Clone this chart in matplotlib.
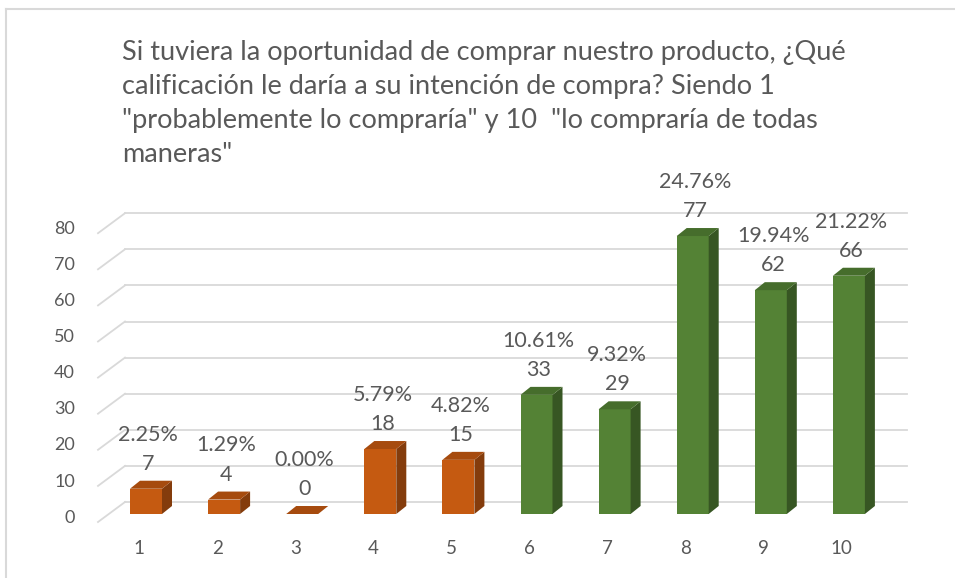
import matplotlib
matplotlib.use("Agg")
import matplotlib.pyplot as plt
from matplotlib.patches import Polygon, Rectangle

# datos de la encuesta
categorias = [1, 2, 3, 4, 5, 6, 7, 8, 9, 10]
cantidades = [7, 4, 0, 18, 15, 33, 29, 77, 62, 66]
porcentajes = [2.25, 1.29, 0.00, 5.79, 4.82, 10.61, 9.32, 24.76, 19.94, 21.22]
grupo = ["bajo"] * 5 + ["alto"] * 5
marcas_y = [0, 10, 20, 30, 40, 50, 60, 70, 80]

titulo = ('Si tuviera la oportunidad de comprar nuestro producto, ¿Qué\n'
          'calificación le daría a su intención de compra? Siendo 1\n'
          '"probablemente lo compraría" y 10  "lo compraría de todas\n'
          'maneras"')

colores = {
    "bajo": ("#C55A11", "#A64B0E", "#843C0C"),
    "alto": ("#548235", "#466D2C", "#375623"),
}

plt.rcParams['font.family'] = ['Lato', 'DejaVu Sans']
gris = "#595959"

W, H = 955, 578
fig = plt.figure(figsize=(W / 100, H / 100), dpi=100)
ax = fig.add_axes([0, 0, 1, 1])

# escala: 78.1 px por categoria, 3.61 px por unidad
px_cat = 78.1
px_val = 3.61
def cx(px):
    return 1 + (px - 146) / px_cat
def vy(py):
    return (514 - py) / px_val

ax.set_xlim(cx(0), cx(W))
ax.set_ylim(vy(H), vy(0))
ax.axis("off")

# profundidad de las barras y del fondo
bx = 10 / px_cat
by = 8 / px_val
ancho = 32 / px_cat
fondo_x0, fondo_x1 = cx(125), cx(907)
fondo_dy = 12 / px_val
frente_x = cx(98)
frente_dy = -8 / px_val

for g in marcas_y:
    ax.plot([fondo_x0, fondo_x1], [g + fondo_dy, g + fondo_dy], color="#d9d9d9", lw=1.3, zorder=1)
    ax.plot([frente_x, fondo_x0], [g + frente_dy, g + fondo_dy], color="#d9d9d9", lw=1.3, zorder=1)
    ax.text(cx(75), g - 1.0, str(g), ha="right", va="center", fontsize=13, color=gris)

for c, n, p, gr in zip(categorias, cantidades, porcentajes, grupo):
    frente, arriba, lado = colores[gr]
    x0 = c - ancho / 2
    x1 = c + ancho / 2
    ax.add_patch(Rectangle((x0, 0), ancho, n, facecolor=frente, edgecolor="none", zorder=3))
    ax.add_patch(Polygon([(x1, 0), (x1 + bx, by), (x1 + bx, n + by), (x1, n)],
                         closed=True, facecolor=lado, edgecolor="none", zorder=3))
    ax.add_patch(Polygon([(x0, n), (x1, n), (x1 + bx, n + by), (x0 + bx, n + by)],
                         closed=True, facecolor=arriba, edgecolor="none", zorder=3))
    ax.text(c + 0.03, n + 6.9, str(n), ha="center", va="center", fontsize=15.5, color=gris, zorder=4)
    ax.text(c + 0.03, n + 15.0, f"{p:.2f}%", ha="center", va="center", fontsize=15.5, color=gris, zorder=4)
    ax.text(c - 0.09, vy(549), str(c), ha="center", va="center", fontsize=13.5, color=gris)

ax.text(cx(122), vy(40), titulo, ha="left", va="top", fontsize=19.5, color=gris, linespacing=1.45)

# borde del grafico
ax.plot([cx(6), cx(W)], [vy(9), vy(9)], color="#d9d9d9", lw=1.5, zorder=0)
ax.plot([cx(6), cx(6)], [vy(9), vy(H)], color="#d9d9d9", lw=1.5, zorder=0)

fig.savefig("out.png", dpi=100)
